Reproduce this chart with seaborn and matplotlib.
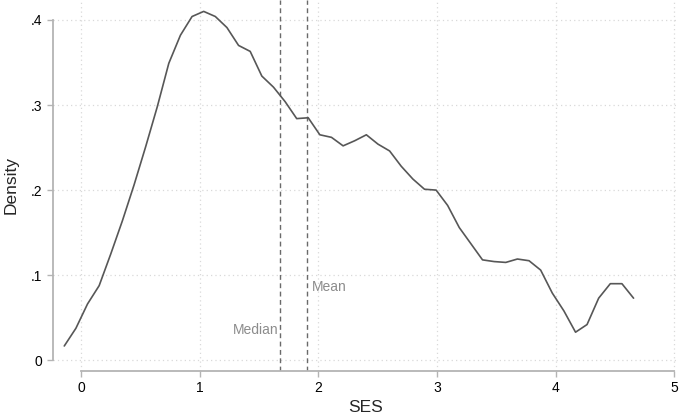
import matplotlib
matplotlib.use("Agg")
import matplotlib.pyplot as plt
import seaborn as sns
import pandas as pd

# Kernel density estimate of SES (50 evaluation points)
ses = [-0.141, -0.043, 0.055, 0.153, 0.251, 0.349, 0.447, 0.545, 0.643, 0.740,
       0.838, 0.936, 1.034, 1.132, 1.230, 1.328, 1.426, 1.524, 1.622, 1.720,
       1.818, 1.915, 2.013, 2.111, 2.209, 2.307, 2.405, 2.503, 2.601, 2.699,
       2.797, 2.895, 2.993, 3.090, 3.188, 3.286, 3.384, 3.482, 3.580, 3.678,
       3.776, 3.874, 3.972, 4.070, 4.168, 4.265, 4.363, 4.461, 4.559, 4.657]
density = [0.0168, 0.0376, 0.0662, 0.0877, 0.125, 0.164, 0.206, 0.251, 0.298, 0.349,
           0.382, 0.404, 0.410, 0.404, 0.391, 0.370, 0.363, 0.334, 0.321, 0.304,
           0.284, 0.285, 0.265, 0.262, 0.252, 0.258, 0.265, 0.254, 0.246, 0.228,
           0.213, 0.201, 0.200, 0.182, 0.156, 0.137, 0.118, 0.116, 0.115, 0.119,
           0.117, 0.106, 0.079, 0.058, 0.033, 0.042, 0.073, 0.090, 0.090, 0.073]

ses_median = 1.681
ses_mean = 1.905

x_ticks = [0, 1, 2, 3, 4, 5]
x_tick_labels = ["0", "1", "2", "3", "4", "5"]
y_ticks = [0, 0.1, 0.2, 0.3, 0.4]
y_tick_labels = ["0", ".1", ".2", ".3", ".4"]

df = pd.DataFrame({"SES": ses, "Density": density})

sns.set_theme(style="white")
plt.rcParams["font.family"] = ["Liberation Sans", "DejaVu Sans"]

axis_grey = "#b4b4b4"
fig = plt.figure(figsize=(6.8, 4.17), dpi=100)
ax = fig.add_axes([53 / 680, 1 - 371 / 417, 626 / 680, 371 / 417])

# grid
for xt in x_ticks:
    ax.axvline(xt, color="#d9d9d9", lw=0.9, ls=(0, (1, 2.5)), zorder=0)
for yt in y_ticks:
    ax.axhline(yt, color="#d9d9d9", lw=0.9, ls=(0, (1, 2.5)), zorder=0)

sns.lineplot(data=df, x="SES", y="Density", ax=ax, color="#575757", lw=1.2,
             zorder=3)

ax.axvline(ses_median, color="#6a6a6a", lw=1.0, ls=(0, (3.5, 2.5)), zorder=2)
ax.axvline(ses_mean, color="#6a6a6a", lw=1.0, ls=(0, (3.5, 2.5)), zorder=2)
ax.text(ses_median - 0.015, 0.0355, "Median", ha="right", va="center",
        color="#8c8c8c", fontsize=10)
ax.text(ses_mean + 0.045, 0.086, "Mean", ha="left", va="center",
        color="#8c8c8c", fontsize=10)

ax.set_xlim(-0.236, 5.04)
ax.set_ylim(-0.0126, 0.4234)
ax.set_xticks(x_ticks)
ax.set_xticklabels(x_tick_labels)
ax.set_yticks(y_ticks)
ax.set_yticklabels(y_tick_labels)

for side in ("top", "right"):
    ax.spines[side].set_visible(False)
ax.spines["left"].set_bounds(0, 0.4)
ax.spines["bottom"].set_bounds(0, 5)
for side in ("left", "bottom"):
    ax.spines[side].set_color(axis_grey)
    ax.spines[side].set_linewidth(1.3)

ax.tick_params(axis="both", which="major", direction="out", length=4.5,
               width=1.0, color=axis_grey, labelsize=10, labelcolor="black",
               pad=3)
ax.tick_params(axis="both", bottom=True, left=True)

ax.set_xlabel("SES", fontsize=12.5, labelpad=3)
ax.set_ylabel("Density", fontsize=12.5, labelpad=9)

fig.savefig("out.png", dpi=100)
